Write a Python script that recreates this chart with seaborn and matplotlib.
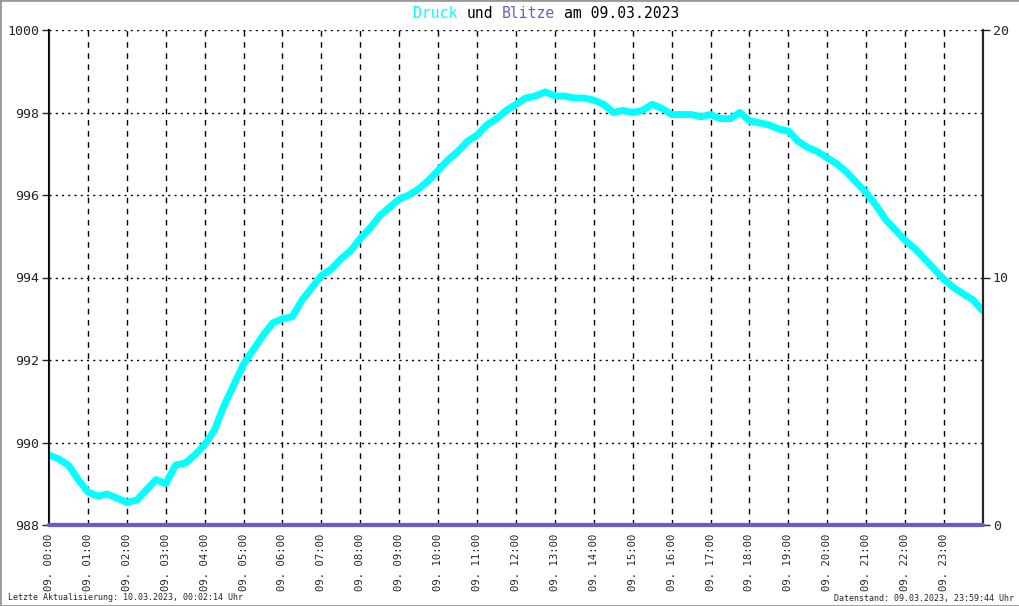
import numpy as np
import pandas as pd
import matplotlib
matplotlib.use("Agg")
import matplotlib.pyplot as plt
import seaborn as sns
from matplotlib.patches import Rectangle

## pressure readings (hPa), every 15 minutes
druck = [989.7, 989.6, 989.45, 989.1, 988.8, 988.7, 988.75, 988.65,
         988.55, 988.6, 988.85, 989.1, 989.0, 989.45, 989.5, 989.7,
         989.95, 990.3, 990.9, 991.4, 991.9, 992.25, 992.6, 992.9,
         993.0, 993.05, 993.45, 993.75, 994.05, 994.2, 994.45, 994.65,
         994.95, 995.2, 995.5, 995.7, 995.9, 996.0, 996.15, 996.35,
         996.6, 996.85, 997.05, 997.3, 997.45, 997.7, 997.85, 998.05,
         998.2, 998.35, 998.4, 998.5, 998.4, 998.4, 998.35, 998.35,
         998.3, 998.2, 998.0, 998.05, 998.0, 998.05, 998.2, 998.1,
         997.95, 997.95, 997.95, 997.9, 997.95, 997.85, 997.85, 998.0,
         997.8, 997.75, 997.7, 997.6, 997.55, 997.3, 997.15, 997.05,
         996.9, 996.75, 996.55, 996.3, 996.05, 995.75, 995.4, 995.15,
         994.9, 994.7, 994.45, 994.2, 993.95, 993.75, 993.6, 993.45]
druck_t = [i * 0.25 for i in range(len(druck))]
## lightning count per hour (none that day)
blitze = [0] * 25
blitze_t = list(range(25))

hour_labels = ["09. %02d:00" % h for h in range(24)]

sns.set_style("white")
plt.rcParams['font.family'] = ['DejaVu Sans Mono']

fig = plt.figure(figsize=(10.2, 6.06), dpi=100)
ax = fig.add_axes([49/1020, 1 - 525/606, (983-49)/1020, (525-30)/606])

df = pd.DataFrame({"t": druck_t + [23.99], "druck": druck + [993.2]})
sns.lineplot(data=df, x="t", y="druck", ax=ax, color="#00ffff", lw=5,
             zorder=3)

ax.set_xlim(0, 24)
ax.set_ylim(988, 1000)
ax.set_yticks(np.arange(988, 1001, 2))
ax.set_yticklabels([str(v) for v in range(988, 1001, 2)], fontsize=9.5)
ax.set_xticks(range(24))
ax.set_xticklabels(hour_labels, rotation=90, fontsize=7.6)
ax.set_xlabel("")
ax.set_ylabel("")
ax.tick_params(axis="y", direction="out", length=5, width=1, pad=2)
ax.tick_params(axis="x", direction="in", length=5, width=1, pad=6)
for x in range(1, 24):
    ax.axvline(x, color="black", ls=(0, (4, 4)), lw=1, zorder=1)
for y in range(990, 1000, 2):
    ax.axhline(y, color="black", ls=(0, (1.5, 3)), lw=1, zorder=1)
ax.spines["top"].set_visible(False)
for s in ["left", "right", "bottom"]:
    ax.spines[s].set_color("black")
    ax.spines[s].set_linewidth(1.5)

ax2 = ax.twinx()
dfb = pd.DataFrame({"t": blitze_t, "blitze": blitze})
sns.lineplot(data=dfb, x="t", y="blitze", ax=ax2, color="#6a5acd", lw=3,
             clip_on=False, zorder=4)
ax2.set_ylim(0, 20)
ax2.set_xlim(0, 24)
ax2.set_yticks([0, 10, 20])
ax2.set_yticklabels(["0", "10", "20"], fontsize=9.5)
ax2.tick_params(axis="y", direction="out", length=5, width=1, pad=2)
ax2.set_ylabel("")
ax2.spines["top"].set_visible(False)
ax2.spines["right"].set_linewidth(1.5)
ax2.axhline(20, xmin=0, xmax=1, color="black", ls=(0, (1.5, 3)), lw=1)

## title in pieces, monospace so character cells line up
fs = 10.6
cw = 0.602 * fs * 100 / 72 / 1020   # width of one character, figure coords
tx, ty = 413/1020, 1 - 14/606
pieces = [("Druck", 0, "#00ffff"), ("und", 6, "black"),
          ("Blitze", 10, "#6a5acd"), ("am 09.03.2023", 17, "black")]
for txt, pos, col in pieces:
    fig.text(tx + pos * cw, ty, txt, color=col, fontsize=fs, va="center")

fig.text(8/1020, 1 - 598/606, "Letzte Aktualisierung: 10.03.2023, 00:02:14 Uhr",
         fontsize=6, va="center")
fig.text(1014/1020, 1 - 598/606, "Datenstand: 09.03.2023, 23:59:44 Uhr",
         fontsize=6, va="center", ha="right")

fig.patches.append(Rectangle((0, 0), 1, 1, transform=fig.transFigure,
                             fill=False, edgecolor="#999999", lw=2))

fig.savefig("out.png", dpi=100)
